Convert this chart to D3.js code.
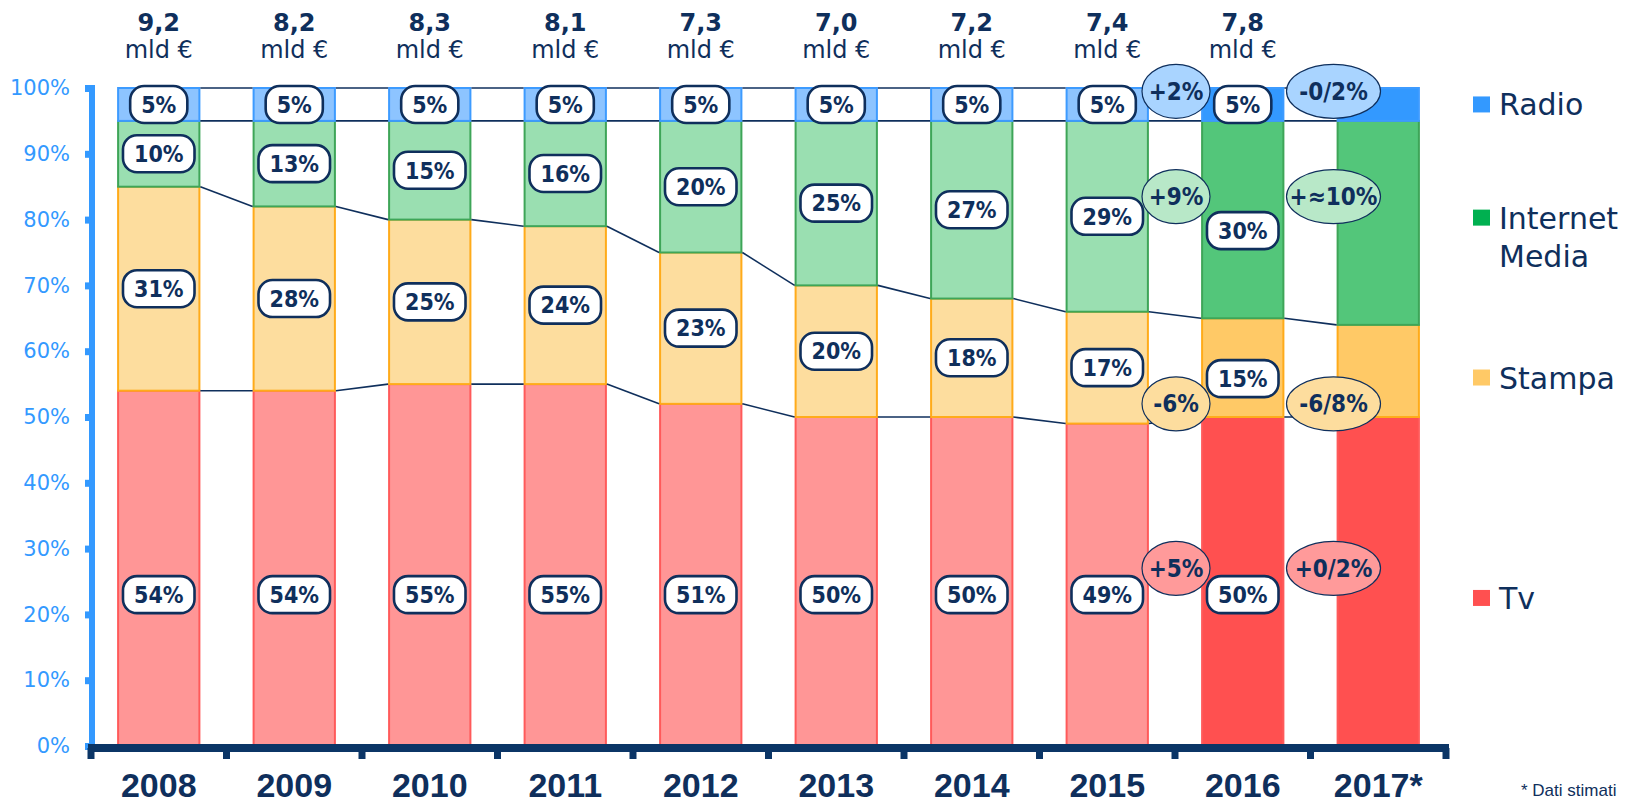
<!DOCTYPE html>
<html>
<head>
<meta charset="utf-8">
<script src="https://cdn.jsdelivr.net/npm/d3@7"></script>
<style>
  body { margin: 0; background: #fff; }
  svg { display: block; }
  .axis text { font-family: "DejaVu Sans", sans-serif; }
  .cond { font-family: "DejaVu Sans Condensed", "DejaVu Sans", sans-serif; font-stretch: condensed; font-weight: bold; }
</style>
</head>
<body>
<svg id="chart" width="1626" height="806"></svg>
<script>
// years on the x axis, 2017 is an estimate
const years = ["2008", "2009", "2010", "2011", "2012", "2013", "2014", "2015", "2016", "2017*"];
// total market, billions of euro (none for 2017)
const totals = [9.2, 8.2, 8.3, 8.1, 7.3, 7.0, 7.2, 7.4, 7.8, null];

// shares in % per medium
const tvShare       = [54, 54, 55, 55, 51, 50, 50, 49, 50, 50];
const stampaShare   = [31, 28, 25, 24, 23, 20, 18, 17, 15, 14];
const internetShare = [10, 13, 15, 16, 20, 25, 27, 29, 30, 31];
const radioShare    = [5, 5, 5, 5, 5, 5, 5, 5, 5, 5];

const yTicks = [0, 10, 20, 30, 40, 50, 60, 70, 80, 90, 100];
const darkYears = ["2016", "2017*"];
const unlabeledYears = ["2017*"];

// growth bubbles between two years
const changePairs   = [["2015", "2016"], ["2016", "2017*"]];
const radioChange    = ["+2%", "-0/2%"];
const internetChange = ["+9%", "+≈10%"];
const stampaChange   = ["-6%", "-6/8%"];
const tvChange       = ["+5%", "+0/2%"];

const navy = "#0f2f5c";
const keys = ["tv", "stampa", "internet", "radio"];
const names = {tv: "Tv", stampa: "Stampa", internet: "Internet|Media", radio: "Radio"};
const lightFill = {tv: "#ff9696", stampa: "#fddd9e", internet: "#9adfb1", radio: "#8dc4ff"};
const darkFill  = {tv: "#ff5050", stampa: "#ffc966", internet: "#53c67a", radio: "#3399ff"};
const strokeCol = {tv: "#ff5a5a", stampa: "#ffab1a", internet: "#3ea558", radio: "#3d9bff"};
const bubbleFill = {tv: "#ff9a9a", stampa: "#fddd9e", internet: "#b8e8c8", radio: "#a9d4ff"};
const legendCol = {tv: "#ff5050", stampa: "#ffc966", internet: "#00b050", radio: "#3399ff"};

const svg = d3.select("#chart");

const x = d3.scaleBand()
    .domain(years)
    .range([91, 1446])
    .paddingInner(0.4)
    .paddingOuter(0.2);

const y = d3.scaleLinear()
    .domain([0, 100])
    .range([746, 88]);

// rows for the stack; tv closes the bar to 100%
const rows = years.map((yr, i) => ({
  year: yr,
  tv: 100 - stampaShare[i] - internetShare[i] - radioShare[i],
  stampa: stampaShare[i],
  internet: internetShare[i],
  radio: radioShare[i]
}));
const labelVals = {tv: tvShare, stampa: stampaShare, internet: internetShare, radio: radioShare};

const series = d3.stack().keys(keys)(rows);

// bars
const gBars = svg.append("g");
series.forEach(s => {
  gBars.selectAll(".bar-" + s.key)
    .data(s)
    .join("rect")
      .attr("class", "bar-" + s.key)
      .attr("x", d => x(d.data.year))
      .attr("width", x.bandwidth())
      .attr("y", d => y(d[1]))
      .attr("height", d => y(d[0]) - y(d[1]))
      .attr("fill", d => darkYears.includes(d.data.year) ? darkFill[s.key] : lightFill[s.key])
      .attr("stroke", strokeCol[s.key])
      .attr("stroke-width", 2);
});

// connector lines between the bars
const gLines = svg.append("g")
    .attr("stroke", navy)
    .attr("stroke-width", 1.6)
    .attr("fill", "none");
series.forEach(s => {
  for (let i = 0; i < years.length - 1; i++) {
    const a = s[i], b = s[i + 1];
    gLines.append("line")
      .attr("x1", x(years[i]) + x.bandwidth() + 1)
      .attr("x2", x(years[i + 1]) - 1)
      .attr("y1", y(a[1]))
      .attr("y2", y(b[1]));
  }
});

// y axis
const yAxis = d3.axisLeft(y)
    .tickValues(yTicks)
    .tickFormat(d => d + "%")
    .tickSize(5)
    .tickSizeOuter(0)
    .tickPadding(17);
const yAxisG = svg.append("g")
    .attr("class", "axis")
    .attr("transform", "translate(92,0)")
    .call(yAxis);
yAxisG.select(".domain").attr("stroke", "#3399ff").attr("stroke-width", 6)
    .attr("d", `M0,${y(100) - 3}V${y(0)}`);
yAxisG.selectAll(".tick line").attr("stroke", "#3399ff").attr("stroke-width", 7)
    .attr("x1", -3).attr("x2", -7);
yAxisG.selectAll(".tick text")
    .attr("fill", "#3399ff")
    .style("font-size", "21px");

// x axis: thick line with stubs at the band limits
const xAxisY = 748;
const step = x.step();
const x0 = x.range()[0];
const gX = svg.append("g");
gX.append("line")
    .attr("x1", x0 - 3).attr("x2", x.range()[1] + 3)
    .attr("y1", xAxisY).attr("y2", xAxisY)
    .attr("stroke", "#0b3566").attr("stroke-width", 8);
gX.selectAll(".stub")
    .data(d3.range(years.length + 1))
    .join("line")
      .attr("class", "stub")
      .attr("x1", i => x0 + i * step).attr("x2", i => x0 + i * step)
      .attr("y1", xAxisY).attr("y2", xAxisY + 11)
      .attr("stroke", "#0b3566").attr("stroke-width", 7);

const xAxis = d3.axisBottom(x).tickSize(0).tickPadding(0);
const xAxisG = svg.append("g")
    .attr("transform", `translate(0,${xAxisY})`)
    .call(xAxis);
xAxisG.select(".domain").remove();
xAxisG.selectAll(".tick text")
    .attr("y", 49)
    .attr("dy", 0)
    .attr("fill", navy)
    .style("font-family", "'Liberation Sans', Arial, sans-serif")
    .style("font-weight", "bold")
    .style("font-size", "34px");

// totals above the bars
const gTop = svg.append("g")
    .attr("fill", navy)
    .attr("text-anchor", "middle")
    .style("font-family", "'DejaVu Sans', sans-serif");
years.forEach((yr, i) => {
  if (totals[i] == null) return;
  const cx = x(yr) + x.bandwidth() / 2;
  gTop.append("text")
    .attr("x", cx).attr("y", 31)
    .style("font-size", "24px").style("font-weight", "bold")
    .text(d3.format(".1f")(totals[i]).replace(".", ","));
  gTop.append("text")
    .attr("x", cx).attr("y", 58)
    .style("font-size", "24px")
    .text("mld €");
});

// value boxes inside the segments
const tvLabelAt = 23;
const gBox = svg.append("g");
series.forEach(s => {
  s.forEach((d, i) => {
    if (unlabeledYears.includes(d.data.year)) return;
    const cx = x(d.data.year) + x.bandwidth() / 2;
    let cy = s.key === "tv" ? y(tvLabelAt) : y((d[0] + d[1]) / 2);
    // the 2016 boxes of the middle segments sit a bit lower
    if (darkYears.includes(d.data.year) && (s.key === "stampa" || s.key === "internet")) cy += 11;
    const g = gBox.append("g").attr("transform", `translate(${cx},${cy})`);
    const rect = g.append("rect");
    const t = g.append("text")
      .attr("class", "cond")
      .attr("text-anchor", "middle")
      .attr("dy", "0.36em")
      .attr("fill", navy)
      .style("font-size", "23px")
      .text(labelVals[s.key][i] + "%");
    const w = t.node().getComputedTextLength() + 22;
    const h = 37;
    rect.attr("x", -w / 2).attr("y", -h / 2)
      .attr("width", w).attr("height", h)
      .attr("rx", 14)
      .attr("fill", "#fff")
      .attr("stroke", navy)
      .attr("stroke-width", 2.6);
  });
});

// growth bubbles
const bubbleAt = {radio: 99.5, internet: 83.5, stampa: 52, tv: 27};
const bubbleText = {radio: radioChange, internet: internetChange, stampa: stampaChange, tv: tvChange};
const colShift = [1, 23];
const colRx = [34, 47];
const gBub = svg.append("g");
changePairs.forEach((pair, j) => {
  const gapMid = (x(pair[0]) + x.bandwidth() + x(pair[1])) / 2;
  const cx = gapMid + colShift[j];
  keys.forEach(k => {
    const cy = y(bubbleAt[k]);
    gBub.append("ellipse")
      .attr("cx", cx).attr("cy", cy)
      .attr("rx", colRx[j]).attr("ry", 27)
      .attr("fill", bubbleFill[k])
      .attr("stroke", navy)
      .attr("stroke-width", 1.2);
    gBub.append("text")
      .attr("class", "cond")
      .attr("x", cx).attr("y", cy)
      .attr("dy", "0.36em")
      .attr("text-anchor", "middle")
      .attr("fill", navy)
      .style("font-size", "24px")
      .text(bubbleText[k][j]);
  });
});

// legend
const legendAt = {radio: 97.5, internet: 80.3, stampa: 56, tv: 22.5};
const gLeg = svg.append("g");
["radio", "internet", "stampa", "tv"].forEach(k => {
  const cy = y(legendAt[k]);
  gLeg.append("rect")
    .attr("x", 1473).attr("y", cy - 8)
    .attr("width", 17).attr("height", 16)
    .attr("fill", legendCol[k]);
  const t = gLeg.append("text")
    .attr("x", 1499).attr("y", cy + 11)
    .attr("fill", navy)
    .style("font-family", "'DejaVu Sans', sans-serif")
    .style("font-size", "30px");
  names[k].split("|").forEach((line, li) => {
    t.append("tspan").attr("x", 1499).attr("dy", li === 0 ? 0 : 38).text(line);
  });
});

svg.append("text")
    .attr("x", 1521).attr("y", 796)
    .attr("fill", navy)
    .style("font-family", "'Liberation Sans', Arial, sans-serif")
    .style("font-size", "17px")
    .text("* Dati stimati");
</script>
</body>
</html>
